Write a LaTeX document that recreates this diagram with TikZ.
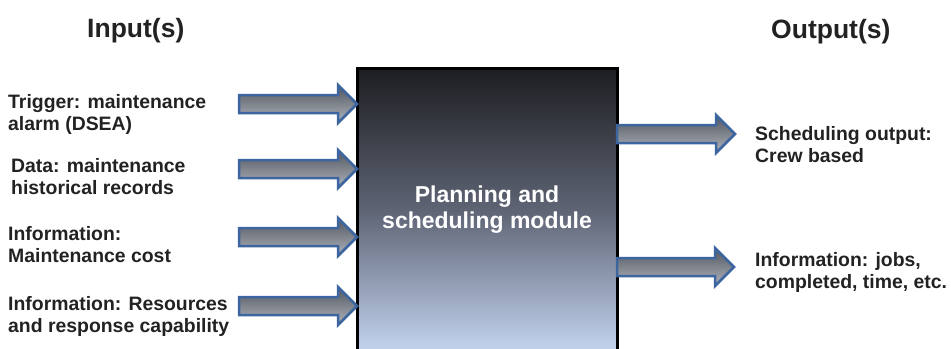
\documentclass[tikz,border=0pt]{standalone}
\usepackage{fontspec}
\setmainfont{Liberation Sans}
\usetikzlibrary{calc}
\definecolor{boxtop}{HTML}{1C1D20}
\definecolor{boxmid}{HTML}{5E6474}
\definecolor{boxbot}{HTML}{C4D4F0}
\definecolor{arrblue}{HTML}{3D66A0}
\definecolor{arrtop}{HTML}{50555F}
\definecolor{arrbot}{HTML}{B0B4BC}
\definecolor{txt}{HTML}{222222}
\pgfdeclareverticalshading{modshade}{100bp}{color(0bp)=(boxbot); color(25bp)=(boxbot); color(50bp)=(boxmid); color(75bp)=(boxtop); color(100bp)=(boxtop)}
\pgfdeclareverticalshading{arrshade}{100bp}{color(0bp)=(arrbot); color(25bp)=(arrbot); color(75bp)=(arrtop); color(100bp)=(arrtop)}
\newcommand\blockarrow[2]{\path[arr] let \p1=(#1), \p2=(#2) in (\x1,\y1-9bp) -- (\x2-19bp,\y2-9bp) -- (\x2-19bp,\y2-19bp) -- (\x2,\y2) -- (\x2-19bp,\y2+19bp) -- (\x2-19bp,\y2+9bp) -- (\x1,\y1+9bp) -- cycle;}
\tikzset{
  modbox/.style={draw=black, line width=3bp, shading=modshade, outer sep=0pt, inner sep=0pt,
    text=white, align=center, font=\fontsize{23bp}{26bp}\selectfont\bfseries},
  arr/.style={draw=arrblue, line width=2.5bp, line join=miter, shading=arrshade},
  lbl/.style={anchor=west, inner sep=0pt, align=left, text=txt, font=\fontsize{19.4bp}{22bp}\selectfont\bfseries},
  ttl/.style={anchor=base west, inner sep=0pt, text=txt, font=\fontsize{26.5bp}{32bp}\selectfont\bfseries}
}
\begin{document}
\begin{tikzpicture}[x=1bp,y=-1bp]
\useasboundingbox (0,0) rectangle (951,348);
\clip (0,0) rectangle (951,348);
\fill[white] (0,0) rectangle (951,348);
\node[ttl] (tin) at (87,37) {Input(s)};
\node[ttl] (tout) at (771,38) {Output(s)};
\node[modbox, minimum width=260bp, minimum height=284bp, anchor=north west] (mod) at (357,68) {Planning and\\scheduling module};
\node[lbl] (l1) at (8,114) {Trigger: maintenance\\alarm (DSEA)};
\node[lbl] (l2) at (11,177) {Data: maintenance\\historical records};
\node[lbl] (l3) at (8,245) {Information:\\Maintenance cost};
\node[lbl] (l4) at (8,316) {Information: Resources\\and response capability};
\node[lbl] (r1) at (755,145) {Scheduling output:\\Crew based};
\node[lbl] (r2) at (755,272) {Information: jobs,\\completed, time, etc.};
\coordinate (i1) at (239,104);
\coordinate (i2) at (239,169);
\coordinate (i3) at (239,237);
\coordinate (i4) at (239,306);
\coordinate (o1) at (735,134);
\coordinate (o2) at (734,267);
\blockarrow{i1}{mod.west |- i1}
\blockarrow{i2}{mod.west |- i2}
\blockarrow{i3}{mod.west |- i3}
\blockarrow{i4}{mod.west |- i4}
\blockarrow{mod.east |- o1}{o1}
\blockarrow{mod.east |- o2}{o2}
\end{tikzpicture}
\end{document}
